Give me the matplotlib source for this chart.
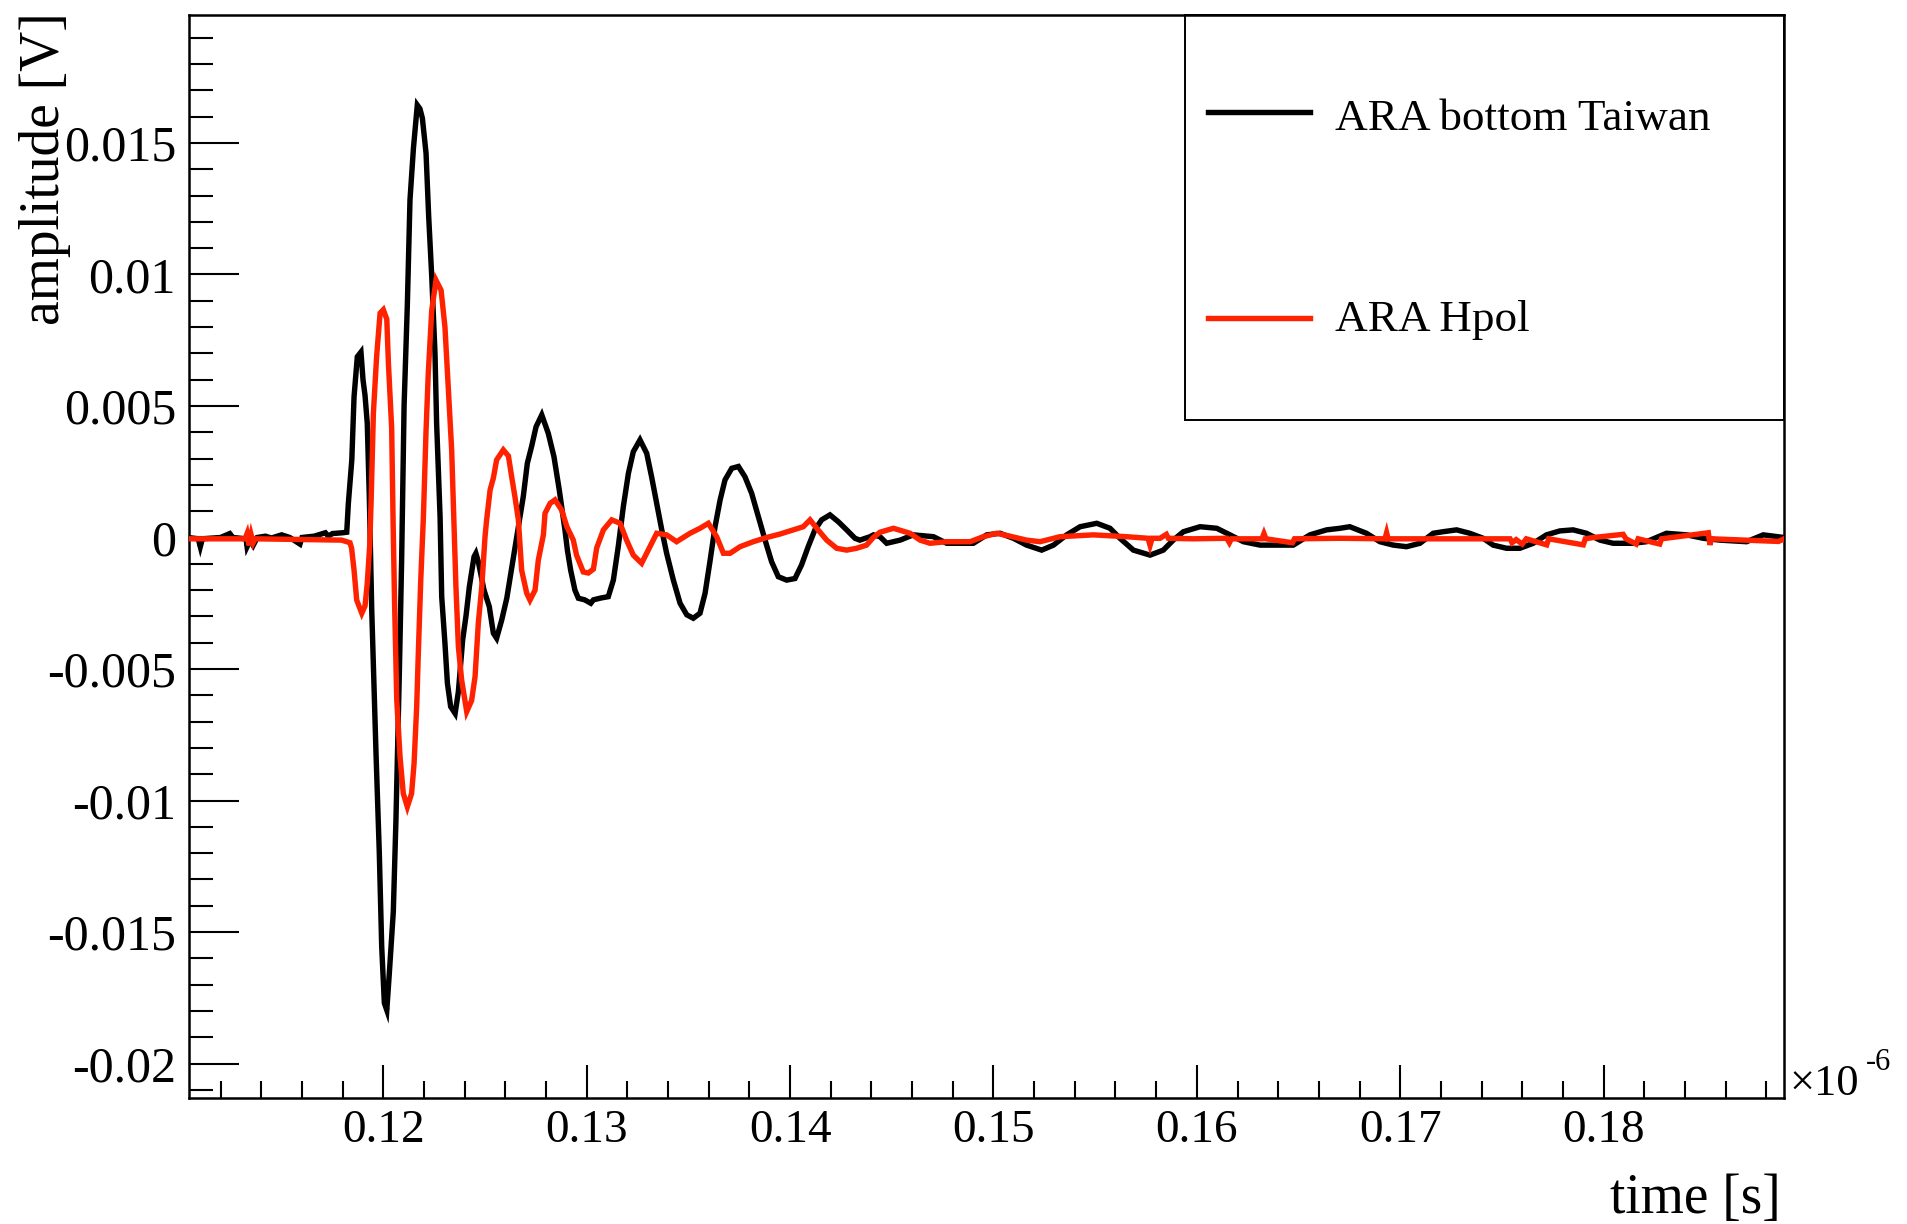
import matplotlib
matplotlib.use("Agg")
import matplotlib.pyplot as plt
from matplotlib.ticker import MultipleLocator, FuncFormatter
from matplotlib.lines import Line2D
from matplotlib.patches import Rectangle
import numpy as np

plt.rcParams['font.family'] = ['Liberation Serif', 'DejaVu Serif']
plt.rcParams['axes.unicode_minus'] = False

# ---- waveform samples: time in ns, amplitude in mV ----
t_bottom = [110.4, 110.9, 111.0, 111.1, 112.0, 112.45, 112.6, 113.25, 113.3, 113.45,
            113.6, 113.8, 114.2, 114.5, 115.0, 115.4, 115.9, 116.0, 116.6, 117.15,
            117.3, 117.5, 118.0, 118.2, 118.28, 118.45, 118.56, 118.72, 118.9, 119.0,
            119.1, 119.21, 119.31, 119.43, 119.64, 119.80, 119.92, 120.05, 120.17, 120.3,
            120.49, 120.62, 120.79, 120.90, 121.02, 121.18, 121.31, 121.48, 121.67, 121.80,
            121.92, 122.10, 122.23, 122.38, 122.54, 122.62, 122.79, 122.87, 123.03, 123.15,
            123.31, 123.53, 123.69, 123.90, 124.07, 124.23, 124.46, 124.55, 124.67, 124.95,
            125.21, 125.41, 125.57, 125.82, 126.07, 126.31, 126.56, 126.88, 127.08, 127.29,
            127.51, 127.79, 128.11, 128.39, 128.65, 128.93, 129.05, 129.21, 129.42, 129.59,
            129.9, 130.2, 130.33, 130.7, 131.06, 131.31, 131.55, 131.80, 132.05, 132.29,
            132.62, 132.95, 133.19, 133.44, 133.69, 133.93, 134.26, 134.59, 134.92, 135.24,
            135.57, 135.82, 136.07, 136.31, 136.56, 136.80, 137.13, 137.46, 137.78, 138.11,
            138.44, 138.77, 139.09, 139.42, 139.83, 140.24, 140.56, 140.89, 141.22, 141.55,
            141.96, 142.37, 142.78, 143.19, 143.43, 143.93, 144.10, 144.42, 144.75, 145.41,
            146.06, 147.05, 147.70, 148.36, 149.01, 149.67, 150.32, 150.98, 151.63, 152.37,
            152.95, 153.60, 154.26, 155.08, 155.73, 156.22, 156.88, 157.70, 158.35, 158.84,
            159.34, 160.16, 160.98, 161.63, 162.29, 163.11, 163.93, 164.74, 165.56, 166.38,
            167.04, 167.52, 168.34, 169.00, 169.66, 170.31, 170.97, 171.62, 172.11, 172.77,
            173.42, 174.08, 174.57, 175.23, 175.88, 176.54, 177.19, 177.85, 178.50, 179.16,
            179.82, 180.47, 181.45, 182.11, 183.09, 184.08, 184.90, 185.72, 187.03, 187.85,
            188.87]
v_bottom = [0.0, -0.05, -0.35, -0.05, 0.0, 0.15, 0.0, -0.05, -0.35, -0.1,
            -0.3, 0.0, 0.05, -0.02, 0.1, 0.0, -0.25, 0.0, 0.05, 0.18,
            0.05, 0.15, 0.18, 0.2, 1.3, 2.95, 5.35, 6.87, 7.05, 6.0,
            5.4, 4.34, 1.56, -2.76, -8.21, -11.95, -15.56, -17.7, -17.97, -16.5,
            -14.23, -10.74, -5.04, -0.86, 5.0, 8.84, 12.83, 14.80, 16.44, 16.3,
            15.94, 14.61, 12.20, 9.92, 7.0, 4.34, 0.79, -2.25, -4.03, -5.54,
            -6.43, -6.69, -5.86, -3.90, -2.95, -1.87, -0.73, -0.6, -0.92, -2.0,
            -2.63, -3.64, -3.83, -3.14, -2.31, -1.17, 0.03, 1.55, 2.82, 3.46,
            4.21, 4.66, 3.96, 3.07, 1.81, 0.29, -0.48, -1.24, -2.0, -2.31,
            -2.37, -2.5, -2.37, -2.3, -2.25, -1.62, -0.35, 1.17, 2.44, 3.26,
            3.71, 3.20, 2.31, 1.30, 0.29, -0.60, -1.62, -2.50, -2.94, -3.07,
            -2.88, -2.12, -0.86, 0.41, 1.43, 2.19, 2.63, 2.70, 2.31, 1.68,
            0.79, -0.10, -0.92, -1.49, -1.62, -1.56, -1.05, -0.35, 0.29, 0.67,
            0.86, 0.60, 0.29, -0.03, -0.10, 0.03, 0.10, 0.03, -0.22, -0.10,
            0.10, 0.03, -0.22, -0.22, -0.22, 0.10, 0.16, -0.03, -0.29, -0.48,
            -0.29, 0.10, 0.41, 0.54, 0.35, -0.03, -0.48, -0.67, -0.48, -0.10,
            0.22, 0.41, 0.35, 0.10, -0.16, -0.29, -0.29, -0.29, 0.10, 0.29,
            0.35, 0.41, 0.16, -0.16, -0.29, -0.35, -0.22, 0.16, 0.22, 0.29,
            0.16, -0.03, -0.29, -0.41, -0.41, -0.22, 0.10, 0.25, 0.29, 0.16,
            -0.10, -0.22, -0.22, -0.16, 0.16, 0.10, -0.03, -0.10, -0.16, 0.10,
            0.0]

t_hpol = [110.4, 113.2, 113.3, 113.4, 113.5, 113.6, 113.7, 117.95, 118.36, 118.44,
          118.56, 118.69, 118.94, 119.10, 119.21, 119.33, 119.40, 119.51, 119.67, 119.84,
          120.00, 120.17, 120.25, 120.41, 120.48, 120.55, 120.66, 120.82, 120.98, 121.18,
          121.39, 121.51, 121.64, 121.72, 121.84, 121.97, 122.10, 122.21, 122.38, 122.59,
          122.84, 123.03, 123.20, 123.36, 123.48, 123.57, 123.69, 123.85, 124.10, 124.34,
          124.51, 124.67, 124.84, 125.00, 125.08, 125.25, 125.41, 125.57, 125.90, 126.15,
          126.31, 126.47, 126.64, 126.80, 127.05, 127.21, 127.46, 127.62, 127.87, 127.95,
          128.20, 128.44, 128.77, 129.02, 129.34, 129.50, 129.83, 130.08, 130.33, 130.49,
          130.82, 131.23, 131.64, 131.96, 132.29, 132.70, 133.11, 133.44, 133.93, 134.42,
          135.08, 135.57, 135.98, 136.39, 136.72, 137.05, 137.54, 138.19, 138.85, 139.50,
          140.16, 140.65, 140.98, 141.31, 141.80, 142.29, 142.78, 143.27, 143.76, 144.09,
          144.42, 145.08, 145.90, 146.39, 146.88, 147.70, 148.85, 149.50, 150.16, 150.81,
          151.63, 152.29, 153.27, 154.91, 156.55, 157.60, 157.70, 157.80, 158.19, 158.50,
          158.6, 159.83, 161.47, 161.6, 161.7, 163.2, 163.3, 163.4, 164.7, 164.8,
          167.04, 169.25, 169.33, 169.4, 175.4, 175.5, 175.7, 176.0, 176.2, 177.2,
          177.3, 179.0, 179.1, 179.5, 180.96, 181.1, 181.6, 181.7, 182.76, 182.85,
          185.15, 185.23, 185.3, 188.6, 188.87]
v_hpol = [-0.05, -0.05, 0.15, -0.3, 0.1, -0.2, -0.05, -0.1, -0.2, -0.41,
          -1.24, -2.38, -2.88, -2.6, -1.74, -0.3, 1.4, 4.72, 6.88, 8.53,
          8.66, 8.3, 6.62, 4.15, 0.6, -2.38, -6.18, -8.33, -9.73, -10.24,
          -9.73, -8.6, -6.43, -4.40, -1.62, 0.79, 4.06, 6.24, 8.64, 9.78,
          9.4, 8.0, 5.6, 3.33, 0.29, -1.87, -4.15, -5.42, -6.62, -6.2,
          -5.29, -3.26, -1.87, 0.03, 0.67, 1.81, 2.26, 2.95, 3.33, 3.1,
          2.31, 1.55, 0.67, -1.24, -2.12, -2.38, -2.0, -0.86, 0.1, 0.92,
          1.30, 1.43, 1.04, 0.42, -0.1, -0.67, -1.31, -1.35, -1.2, -0.4,
          0.29, 0.67, 0.54, -0.10, -0.67, -0.98, -0.35, 0.16, 0.10, -0.16,
          0.16, 0.35, 0.54, 0.03, -0.60, -0.60, -0.35, -0.16, 0.0, 0.13,
          0.29, 0.41, 0.67, 0.35, -0.10, -0.41, -0.48, -0.41, -0.29, 0.0,
          0.20, 0.35, 0.16, -0.10, -0.22, -0.16, -0.16, 0.03, 0.16, 0.05,
          -0.10, -0.16, 0.03, 0.10, 0.03, -0.03, -0.3, -0.03, -0.03, 0.12,
          -0.03, -0.05, -0.03, -0.2, -0.05, -0.05, 0.15, -0.05, -0.2, -0.05,
          -0.03, -0.05, 0.18, -0.05, -0.05, -0.2, -0.08, -0.25, -0.05, -0.28,
          -0.05, -0.28, -0.05, 0.0, 0.12, -0.05, -0.25, -0.05, -0.25, -0.05,
          0.18, -0.28, -0.05, -0.15, -0.05]

labels = ["ARA bottom Taiwan", "ARA Hpol"]
colors = ["#000000", "#ff2200"]

W, H = 1907, 1224
fig = plt.figure(figsize=(W / 100, H / 100), dpi=100)

# frame in pixel coordinates
x_left, x_right, y_top, y_bot = 188.5, 1784.0, 14.6, 1098.0
ax = fig.add_axes([x_left / W, 1 - y_bot / H, (x_right - x_left) / W, (y_bot - y_top) / H])

lw = 3.9
ax.plot(np.array(t_bottom) / 1000.0, np.array(v_bottom) / 1000.0,
        color=colors[0], lw=lw, solid_joinstyle='miter', zorder=2)
ax.plot(np.array(t_hpol) / 1000.0, np.array(v_hpol) / 1000.0,
        color=colors[1], lw=lw, solid_joinstyle='miter', zorder=3)

ax.set_xlim(0.11042, 0.18887)
ax.set_ylim(-0.02131, 0.01988)

ax.xaxis.set_major_locator(MultipleLocator(0.01))
ax.xaxis.set_minor_locator(MultipleLocator(0.002))
ax.yaxis.set_major_locator(MultipleLocator(0.005))
ax.yaxis.set_minor_locator(MultipleLocator(0.001))


def fmt(v, _pos, nd):
    r = round(v, nd)
    if abs(r) < 1e-12:
        return "0"
    return f"{r:g}"


ax.xaxis.set_major_formatter(FuncFormatter(lambda v, p: fmt(v, p, 3)))
ax.yaxis.set_major_formatter(FuncFormatter(lambda v, p: fmt(v, p, 4)))

ax.tick_params(axis='both', which='both', direction='in', top=False, right=False,
               width=1.5, colors='black')
ax.tick_params(axis='y', which='major', length=36, pad=9, labelsize=36)
ax.tick_params(axis='y', which='minor', length=17)
ax.tick_params(axis='x', which='major', length=24, pad=8, labelsize=34)
ax.tick_params(axis='x', which='minor', length=12.5)

for s in ax.spines.values():
    s.set_linewidth(1.8)

# axis titles
fig.text(45 / W, 1 - 12 / H, "amplitude [V]", rotation=90, ha='center', va='top',
         fontsize=40)
fig.text(1781 / W, 1 - 1199 / H, "time [s]", ha='right', va='center', fontsize=40)

# exponent of the time axis
fig.text(1789 / W, 1 - 1095 / H, "\u00d710", ha='left', va='baseline', fontsize=32)
fig.text(1866 / W, 1 - 1070 / H, "-6", ha='left', va='baseline', fontsize=22)

# legend box
lx0, lx1, ly0, ly1 = 1185.0, x_right, y_top, 420.0
fig.add_artist(Rectangle((lx0 / W, 1 - ly1 / H), (lx1 - lx0) / W, (ly1 - ly0) / H,
                         transform=fig.transFigure, fill=False, lw=1.4,
                         edgecolor='black', zorder=5))
entry_y = [111.7, 317.7]
text_base = [130.0, 331.0]
for lab, col, yl, yb in zip(labels, colors, entry_y, text_base):
    fig.add_artist(Line2D([1208 / W, 1310 / W], [1 - yl / H, 1 - yl / H],
                          transform=fig.transFigure, color=col, lw=lw))
    fig.text(1335 / W, 1 - yb / H, lab, ha='left', va='baseline', fontsize=32.5)

fig.savefig("out.png", dpi=100, facecolor='white')
